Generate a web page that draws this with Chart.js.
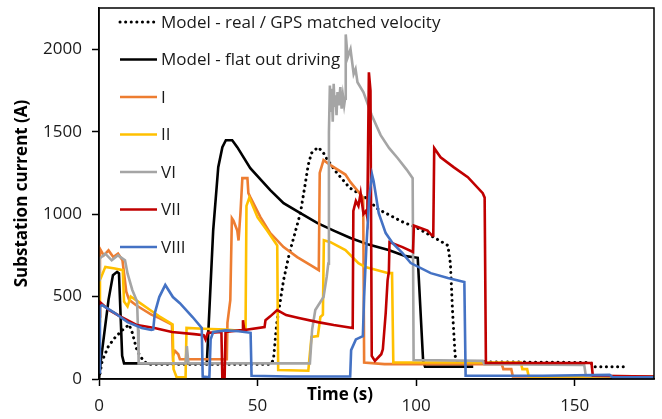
<!DOCTYPE html>
<html>
<head>
<meta charset="utf-8">
<script src="https://cdn.jsdelivr.net/npm/chart.js@4.4.0/dist/chart.umd.min.js"></script>
<style>
    html, body { margin: 0; padding: 0; background: #fff; }
    #wrap { width: 662px; height: 419px; }
</style>
</head>
<body>
<div id="wrap"><canvas id="currentChart" width="662" height="419"></canvas></div>
<script>
// Tempo (s) e corrente (A) de cada série
const realT = [0, 1, 3, 5, 7, 9.5, 10.5, 12, 14, 15.5, 54, 55, 56, 58.2, 60, 62, 63.5, 65, 66, 67, 69, 70.5, 72, 75, 79, 84, 88, 92, 96, 100, 105.5, 110, 110.8, 111.5, 112.3, 113, 155, 156, 166];
const realA = [0, 110, 200, 250, 290, 330, 280, 170, 110, 90, 90, 115, 330, 600, 760, 900, 1006, 1180, 1300, 1370, 1405, 1380, 1330, 1250, 1160, 1100, 1030, 990, 950, 920, 860, 810, 700, 400, 140, 105, 100, 75, 75];

const flatT = [0, 0.6, 3, 4.4, 5.7, 6.3, 7.3, 7.9, 34, 36, 37.6, 38.9, 40, 42, 43.6, 47.7, 54, 58.2, 63.5, 68.9, 74, 79.3, 85, 91.3, 96.7, 100.5, 102.2, 102.8, 118];
const flatA = [0, 115, 480, 630, 650, 640, 140, 95, 95, 900, 1285, 1406, 1448, 1448, 1406, 1279, 1145, 1066, 1006, 945, 900, 855, 815, 782, 745, 735, 110, 75, 75];

const iT = [0, 0.3, 1.5, 3, 4.5, 6, 7.4, 7.9, 8.6, 9.5, 11.5, 14, 16.5, 19, 21, 23, 23.3, 24, 25, 25.5, 40.3, 40.5, 41.4, 41.9, 42.4, 43.6, 44.0, 44.6, 45.2, 46.8, 47.1, 47.7, 50.9, 54, 58.2, 62.5, 66.7, 69.3, 69.6, 70.8, 73, 77.7, 79.3, 83.3, 83.6, 90, 127, 127.5, 130, 130.5, 175];
const iA = [650, 790, 750, 780, 740, 760, 720, 640, 530, 480, 450, 420, 390, 370, 350, 330, 140, 170, 150, 120, 120, 340, 478, 975, 960, 900, 840, 1006, 1218, 1218, 1127, 1103, 982, 885, 800, 739, 691, 660, 1250, 1327, 1297, 1240, 1194, 1100, 100, 90, 90, 60, 60, 15, 15];

const iiT = [0, 0.3, 2, 5, 7.5, 7.9, 9, 10, 13, 16, 19, 22, 23.2, 23.5, 24.5, 27.3, 27.6, 33, 40, 46.2, 46.5, 47.4, 50, 53, 56.2, 56.5, 66, 66.3, 67, 69, 69.8, 70.6, 70.9, 73, 77.7, 81.8, 84, 91.3, 92.4, 92.8, 133, 133.5, 135, 135.5, 175];
const iiA = [350, 600, 680, 670, 660, 470, 440, 500, 460, 420, 380, 345, 330, 60, 10, 10, 310, 305, 300, 290, 1050, 1100, 980, 900, 810, 55, 50, 115, 255, 260, 376, 390, 842, 830, 782, 703, 679, 642, 642, 100, 100, 60, 60, 15, 15];

const viT = [0, 0.2, 2, 4, 6, 8.2, 9, 10.5, 12, 12.3, 12.5, 27.3, 27.7, 28.2, 66.5, 67.2, 68.2, 70.8, 71.8, 72.3, 72.5, 72.8, 73.1, 73.4, 73.7, 74, 74.3, 74.6, 74.9, 75.2, 75.6, 76.1, 76.5, 76.9, 77.3, 77.6, 77.8, 78.4, 79.3, 80.3, 80.9, 81.5, 83.4, 86, 88.8, 91.5, 94.2, 97, 98.9, 99.2, 121, 121.5, 153, 153.5, 175];
const viA = [600, 730, 760, 720, 750, 720, 640, 540, 470, 300, 95, 95, 200, 95, 95, 300, 418, 497, 620, 700, 1500, 1780, 1620, 1760, 1560, 1790, 1650, 1720, 1600, 1740, 1660, 1770, 1640, 1720, 1660, 1700, 2090, 1950, 2000, 1850, 1880, 1800, 1739, 1600, 1479, 1400, 1339, 1270, 1218, 115, 110, 90, 85, 20, 15];

const viiT = [0, 0.3, 3, 7, 12, 17.5, 23, 30, 33, 33.6, 34.3, 38.6, 38.9, 39.6, 39.9, 45.2, 45.4, 45.8, 46, 52.2, 52.5, 54, 56.2, 59, 63, 69, 74, 80, 80.2, 81, 81.8, 82.5, 83.4, 84.2, 84.6, 85.1, 85.6, 86.0, 87, 89, 89.5, 90.4, 91, 91.4, 91.6, 95.7, 99, 99.3, 103.6, 105, 105.4, 105.7, 107.7, 111.8, 116.3, 121, 121.6, 122, 155.3, 155.7, 175];
const viiA = [380, 466, 420, 376, 327, 309, 285, 272, 266, 240, 280, 285, 0, 0, 285, 297, 357, 297, 297, 315, 357, 380, 418, 388, 370, 345, 327, 309, 1020, 1080, 1050, 1127, 1000, 1020, 980, 1860, 1750, 140, 110, 150, 180, 400, 600, 650, 830, 800, 770, 930, 900, 870, 870, 1400, 1345, 1285, 1224, 1127, 1100, 97, 97, 20, 15];

const viiiT = [0, 0.3, 1, 5, 9, 13.5, 16.5, 17.1, 17.6, 19, 20.9, 23.3, 25.5, 29.5, 32.4, 32.7, 34.8, 35.2, 36, 40, 44, 47.8, 48.1, 60, 79.2, 79.5, 81, 83.2, 83.6, 84.3, 85.2, 86.1, 86.6, 87.2, 88.2, 90.4, 92.6, 95.7, 98.3, 104.6, 110, 115.2, 115.6, 140, 161, 162, 175];
const viiiA = [40, 440, 448, 400, 345, 309, 297, 300, 400, 497, 570, 497, 460, 376, 310, 15, 10, 240, 285, 295, 290, 280, 20, 15, 15, 175, 240, 260, 500, 800, 1100, 1240, 1200, 1127, 1006, 885, 824, 763, 703, 642, 612, 588, 20, 20, 25, 10, 10];

const xTicks = [0, 50, 100, 150];
const yTicks = [0, 500, 1000, 1500, 2000];

const FONT = "'Open Sans', 'Noto Sans', sans-serif";

function pts(t, a) {
    return t.map((v, i) => ({ x: v, y: a[i] }));
}

function serie(label, t, a, color, order, extra) {
    return Object.assign({
        label: label,
        data: pts(t, a),
        borderColor: color,
        borderWidth: 2.6,
        pointRadius: 0,
        tension: 0,
        fill: false,
        order: order
    }, extra || {});
}

// Caixa do gráfico, legenda interna e título do eixo x
const boxLegend = {
    id: 'boxLegend',
    afterDraw(chart) {
        const ctx = chart.ctx;
        const a = chart.chartArea;
        ctx.save();
        ctx.strokeStyle = '#000';
        ctx.lineWidth = 1.5;
        ctx.strokeRect(a.left, a.top, a.right - a.left, a.bottom - a.top);

        chart.data.datasets.forEach((ds, i) => {
            const y = a.top + 14 + i * 37.5;
            ctx.beginPath();
            ctx.setLineDash(ds.borderDash || []);
            ctx.lineCap = ds.borderCapStyle || 'butt';
            ctx.lineWidth = ds.borderWidth;
            ctx.strokeStyle = ds.borderColor;
            ctx.moveTo(a.left + 21, y);
            ctx.lineTo(a.left + 58, y);
            ctx.stroke();
            ctx.setLineDash([]);
            ctx.fillStyle = '#1a1a1a';
            ctx.font = '17px ' + FONT;
            ctx.textAlign = 'left';
            ctx.textBaseline = 'middle';
            ctx.fillText(ds.label, a.left + 62, y + 1);
        });

        ctx.fillStyle = '#000';
        ctx.font = 'bold 17px ' + FONT;
        ctx.textAlign = 'center';
        ctx.textBaseline = 'alphabetic';
        ctx.fillText('Time (s)', 340, 400);
        ctx.restore();
    }
};

const ctx = document.getElementById('currentChart').getContext('2d');
const chart = new Chart(ctx, {
    type: 'line',
    data: {
        datasets: [
            serie('Model - real / GPS matched velocity', realT, realA, '#000000', 7, { borderDash: [0.1, 5.5], borderCapStyle: 'round', borderWidth: 3 }),
            serie('Model - flat out driving', flatT, flatA, '#000000', 6),
            serie('I', iT, iA, '#ED7D31', 5),
            serie('II', iiT, iiA, '#FFC000', 4),
            serie('VI', viT, viA, '#A5A5A5', 3),
            serie('VII', viiT, viiA, '#C00000', 2),
            serie('VIII', viiiT, viiiA, '#4472C4', 1)
        ]
    },
    options: {
        responsive: false,
        animation: false,
        devicePixelRatio: 1,
        parsing: false,
        events: [],
        layout: { padding: { top: 8, right: 8, left: 0, bottom: 0 } },
        plugins: {
            legend: { display: false },
            tooltip: { enabled: false }
        },
        scales: {
            x: {
                type: 'linear',
                min: 0,
                max: 175,
                afterBuildTicks: s => { s.ticks = xTicks.map(v => ({ value: v })); },
                afterFit: s => { s.height = 40; s.paddingLeft = 0; s.paddingRight = 0; },
                border: { display: true, color: '#000', width: 1.5 },
                grid: { display: true, drawOnChartArea: false, drawTicks: true, tickLength: 7, color: '#000', tickWidth: 1.5 },
                ticks: { padding: 10, maxRotation: 0, color: '#1a1a1a', font: { family: FONT, size: 17 }, callback: v => String(v) }
            },
            y: {
                min: 0,
                max: 2250,
                afterBuildTicks: s => { s.ticks = yTicks.map(v => ({ value: v })); },
                afterFit: s => { s.width = 99; s.paddingTop = 0; s.paddingBottom = 0; },
                border: { display: true, color: '#000', width: 1.5 },
                grid: { display: true, drawOnChartArea: false, drawTicks: true, tickLength: 7, color: '#000', tickWidth: 1.5 },
                ticks: { padding: 10, color: '#1a1a1a', font: { family: FONT, size: 17 }, callback: v => String(v) },
                title: {
                    display: true,
                    text: 'Substation current (A)',
                    color: '#000',
                    font: { family: FONT, size: 17, weight: 'bold' },
                    padding: { top: 12, bottom: 0 }
                }
            }
        }
    },
    plugins: [boxLegend]
});
</script>
</body>
</html>
